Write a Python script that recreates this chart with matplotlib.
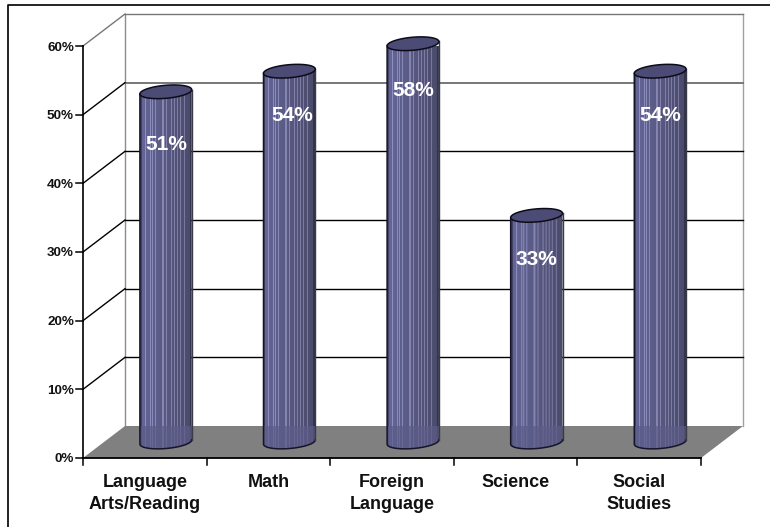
import numpy as np
import matplotlib
matplotlib.use("Agg")
import matplotlib.pyplot as plt
from matplotlib.lines import Line2D
from matplotlib.path import Path
from matplotlib.patches import PathPatch, Polygon

plt.rcParams["font.family"] = ["Liberation Sans", "DejaVu Sans"]

# Chart values
categories = ["Language\nArts/Reading", "Math", "Foreign\nLanguage", "Science", "Social\nStudies"]
values = [51, 54, 58, 33, 54]
y_ticks = [0, 10, 20, 30, 40, 50, 60]

# Light streaks on the cylinders, in pixels from the left edge
streaks = [5, 10, 12, 15, 22, 23, 26, 31, 34, 37, 40, 44]
# How far each value label sits under the top of its bar, in pixels
label_drop = [53, 44, 47, 44, 44]
label_nudge = [1, 3, 0, 0, 0]

fig = plt.figure(figsize=(7.7, 5.27), dpi=100)
ax = fig.add_axes([83 / 770, (527 - 458) / 527, 618 / 770, 412 / 527])
ax.set_xlim(0, 5)
ax.set_ylim(0, 60)
ax.axis("off")

# pixels to data units
sx = 5 / 618
sy = 60 / 412
dx = 42 * sx
dy = 32 * sy
tilt = np.radians(5)
a, b = 26, 6.5


def ellipse(cx, cy, t):
    x = a * np.cos(t) * np.cos(tilt) - b * np.sin(t) * np.sin(tilt)
    y = a * np.cos(t) * np.sin(tilt) + b * np.sin(t) * np.cos(tilt)
    return cx + x * sx, cy + y * sy


# Outer frame of the picture
fig.add_artist(Line2D([8 / 770, 8 / 770, 1], [0, 1 - 5 / 527, 1 - 5 / 527], color="#111111", lw=1.3))

# Back wall and side wall
ax.plot([dx, dx], [dy, 60 + dy], color="#8c8c8c", lw=1, zorder=1, clip_on=False)
ax.plot([5 + dx, 5 + dx], [dy, 60 + dy], color="#a0a0a0", lw=1, zorder=1, clip_on=False)
for v in y_ticks[1:]:
    col = "black" if v < 50 else "#777777"
    width = 1.4 if v == 50 else 1
    ax.plot([dx, 5 + dx], [v + dy, v + dy], color=col, lw=width, zorder=1, clip_on=False)
    ax.plot([0, dx], [v, v + dy], color="black" if v < 60 else "#777777", lw=1, zorder=1, clip_on=False)

# Floor
floor = [(0, 0), (5, 0), (5 + dx, dy), (dx, dy)]
ax.add_patch(Polygon(floor, closed=True, fc="#808080", ec="none", zorder=2, clip_on=False))

# Cylinder shading
left = np.array([0.40, 0.40, 0.60])
right = np.array([0.29, 0.29, 0.42])
ramp = np.linspace(0, 1, 52)[:, None]
shade = left * (1 - ramp) + right * ramp
shade[0:2] *= 0.65
shade[-2:] *= 0.7
for s in streaks:
    shade[s] = np.minimum(shade[s] + 0.17, 1)
shade = shade[None, :, :]

for i, val in enumerate(values):
    cx = i + 0.5 + dx / 2
    base = dy / 2
    top = val + dy / 2

    t_up = np.linspace(np.pi, 0, 40)
    t_down = np.linspace(2 * np.pi, np.pi, 40)
    xt, yt = ellipse(cx, top, t_up)
    xb, yb = ellipse(cx, base, t_down)
    verts = np.vstack([np.c_[xt, yt], np.c_[xb, yb], [xt[0], yt[0]]])
    body = PathPatch(Path(verts, closed=True), fc="none", ec="none", transform=ax.transData, zorder=3)
    body.set_clip_on(False)
    ax.add_patch(body)

    im = ax.imshow(shade, extent=[cx - a * sx, cx + a * sx, base - 10, top + 2], aspect="auto",
                   interpolation="bilinear", zorder=3)
    im.set_clip_path(body)

    # the part standing on the floor looks duller
    dull = Polygon(floor, closed=True, fc="#5c5c88", ec="none", alpha=0.7, zorder=3.1)
    ax.add_patch(dull)
    dull.set_clip_on(True)
    dull.set_clip_path(body)

    # outline of the sides and base
    ax.plot(np.r_[xt[0], xb[::-1]], np.r_[yt[0], yb[::-1]], color="#15152a", lw=1.1, zorder=4, clip_on=False)
    ax.plot([xt[-1], xb[0]], [yt[-1], yb[0]], color="#3a3a48", lw=1, zorder=4, clip_on=False)

    # top cap
    xe, ye = ellipse(cx, top, np.linspace(0, 2 * np.pi, 80))
    ax.fill(xe, ye, fc="#4b4b76", ec="#0c0c18", lw=1.1, zorder=5, clip_on=False)

    ax.text(cx + label_nudge[i] * sx, top - label_drop[i] * sy, f"{val}%", color="white",
            fontsize=15, fontweight="bold", ha="center", va="center", zorder=6)

ax.set_xlim(0, 5)
ax.set_ylim(0, 60)

# Front axes, ticks and labels
ax.plot([0, 0], [0, 60], color="black", lw=1.2, zorder=7, clip_on=False)
ax.plot([0, 5], [0, 0], color="black", lw=1.3, zorder=7, clip_on=False)
for v in y_ticks:
    ax.plot([-7 * sx, 0], [v, v], color="black", lw=1.1, zorder=7, clip_on=False)
    ax.text(-9 * sx, v - 1.5 * sy, f"{v}%", fontsize=9.7, fontweight="bold", ha="right", va="center", color="#111111")
for i in range(6):
    ax.plot([i, i], [0, -7 * sy], color="black", lw=1.1, zorder=7, clip_on=False)
for i, name in enumerate(categories):
    ax.text(i + 0.5, -16 * sy, name, fontsize=13, fontweight="bold", ha="center", va="top",
            linespacing=1.42, color="#111111")

fig.savefig("out.png", dpi=100)
